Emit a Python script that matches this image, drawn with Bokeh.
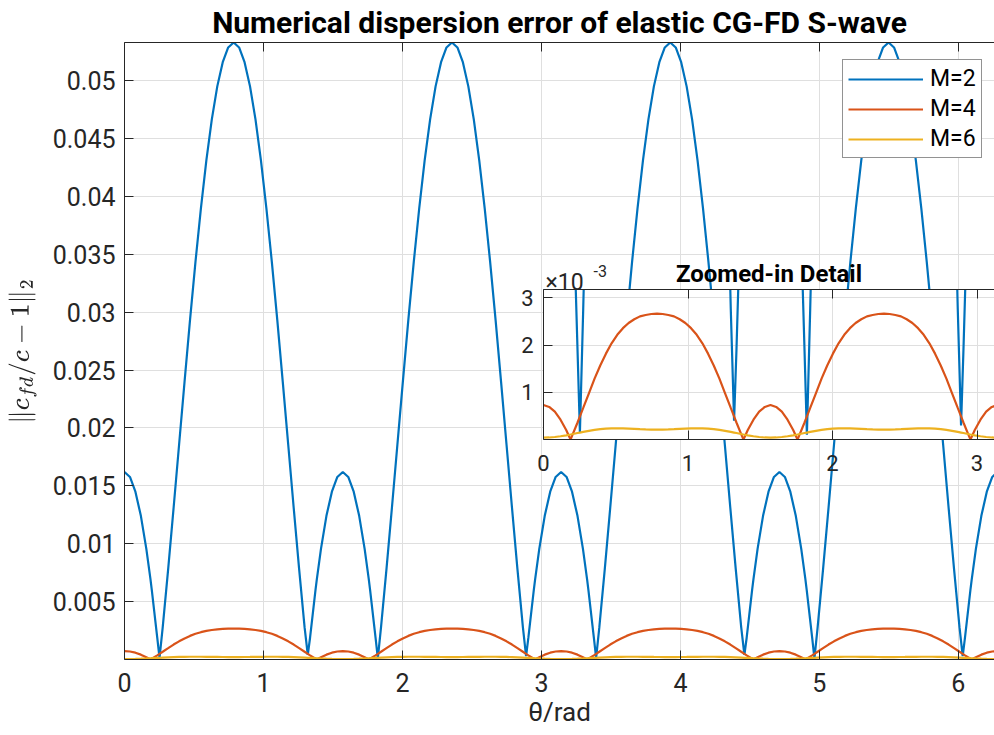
from bokeh.plotting import figure
from bokeh.models import (ColumnDataSource, Range1d, LinearAxis, FixedTicker, Grid,
                          Legend, LegendItem, Label)
from bokeh.embed import file_html
from bokeh.resources import INLINE

# ---------------- data ----------------
theta = [
    0.0, 0.0393, 0.0785, 0.1178, 0.1571, 0.187, 0.1963, 0.2356, 0.252, 0.2749,
    0.3142, 0.3534, 0.3927, 0.432, 0.4712, 0.5105, 0.5498, 0.589, 0.6283, 0.6676,
    0.7069, 0.7461, 0.7854, 0.8247, 0.8639, 0.9032, 0.9425, 0.9817, 1.021, 1.0603,
    1.0996, 1.1388, 1.1781, 1.2174, 1.2566, 1.2959, 1.3188, 1.3352, 1.3744, 1.3838,
    1.4137, 1.453, 1.4923, 1.5315,
    1.5708, 1.6101, 1.6493, 1.6886, 1.7279, 1.7578, 1.7671, 1.8064, 1.8228, 1.8457,
    1.885, 1.9242, 1.9635, 2.0028, 2.042, 2.0813, 2.1206, 2.1598, 2.1991, 2.2384,
    2.2777, 2.3169, 2.3562, 2.3955, 2.4347, 2.474, 2.5133, 2.5525, 2.5918, 2.6311,
    2.6704, 2.7096, 2.7489, 2.7882, 2.8274, 2.8667, 2.8896, 2.906, 2.9452, 2.9546,
    2.9845, 3.0238, 3.0631, 3.1023,
    3.1416, 3.1809, 3.2201, 3.2594, 3.2987, 3.3286, 3.3379, 3.3772, 3.3936, 3.4165,
    3.4558, 3.495, 3.5343, 3.5736, 3.6128, 3.6521, 3.6914, 3.7306, 3.7699, 3.8092,
    3.8485, 3.8877, 3.927, 3.9663, 4.0055, 4.0448, 4.0841, 4.1233, 4.1626, 4.2019,
    4.2412, 4.2804, 4.3197, 4.359, 4.3982, 4.4375, 4.4604, 4.4768, 4.516, 4.5254,
    4.5553, 4.5946, 4.6339, 4.6731,
    4.7124, 4.7517, 4.7909, 4.8302, 4.8695, 4.8994, 4.9087, 4.948, 4.9644, 4.9873,
    5.0265, 5.0658, 5.1051, 5.1444, 5.1836, 5.2229, 5.2622, 5.3014, 5.3407, 5.38,
    5.4193, 5.4585, 5.4978, 5.5371, 5.5763, 5.6156, 5.6549, 5.6941, 5.7334, 5.7727,
    5.812, 5.8512, 5.8905, 5.9298, 5.969, 6.0083, 6.0312, 6.0476, 6.0868, 6.0962,
    6.1261, 6.1654, 6.2046, 6.2439,
    6.2832,
]

err_m2 = [
    0.0162, 0.01577, 0.0145, 0.01241, 0.00956, 0.00692, 0.00602, 0.00188, 0.00015, 0.00277,
    0.00781, 0.01311, 0.01855, 0.02399, 0.02929, 0.03433, 0.03898, 0.04312, 0.04666, 0.04951,
    0.0516, 0.05287, 0.0533, 0.05287, 0.0516, 0.04951, 0.04666, 0.04312, 0.03898, 0.03433,
    0.02929, 0.02399, 0.01855, 0.01311, 0.00781, 0.00277, 0.0004, 0.00188, 0.00602, 0.00692,
    0.00956, 0.01241, 0.0145, 0.01577,
    0.0162, 0.01577, 0.0145, 0.01241, 0.00956, 0.00692, 0.00602, 0.00188, 0.0001, 0.00277,
    0.00781, 0.01311, 0.01855, 0.02399, 0.02929, 0.03433, 0.03898, 0.04312, 0.04666, 0.04951,
    0.0516, 0.05287, 0.0533, 0.05287, 0.0516, 0.04951, 0.04666, 0.04312, 0.03898, 0.03433,
    0.02929, 0.02399, 0.01855, 0.01311, 0.00781, 0.00277, 0.0003, 0.00188, 0.00602, 0.00692,
    0.00956, 0.01241, 0.0145, 0.01577,
    0.0162, 0.01577, 0.0145, 0.01241, 0.00956, 0.00692, 0.00602, 0.00188, 0.00015, 0.00277,
    0.00781, 0.01311, 0.01855, 0.02399, 0.02929, 0.03433, 0.03898, 0.04312, 0.04666, 0.04951,
    0.0516, 0.05287, 0.0533, 0.05287, 0.0516, 0.04951, 0.04666, 0.04312, 0.03898, 0.03433,
    0.02929, 0.02399, 0.01855, 0.01311, 0.00781, 0.00277, 0.0004, 0.00188, 0.00602, 0.00692,
    0.00956, 0.01241, 0.0145, 0.01577,
    0.0162, 0.01577, 0.0145, 0.01241, 0.00956, 0.00692, 0.00602, 0.00188, 0.0001, 0.00277,
    0.00781, 0.01311, 0.01855, 0.02399, 0.02929, 0.03433, 0.03898, 0.04312, 0.04666, 0.04951,
    0.0516, 0.05287, 0.0533, 0.05287, 0.0516, 0.04951, 0.04666, 0.04312, 0.03898, 0.03433,
    0.02929, 0.02399, 0.01855, 0.01311, 0.00781, 0.00277, 0.0003, 0.00188, 0.00602, 0.00692,
    0.00956, 0.01241, 0.0145, 0.01577,
    0.0162,
]

err_m4 = [
    0.00073, 0.00069, 0.00059, 0.00042, 0.0002, 0.0, 0.000066, 0.00036, 0.00049, 0.00067,
    0.00098, 0.00129, 0.00157, 0.00182, 0.00204, 0.00222, 0.00236, 0.00247, 0.00255, 0.00261,
    0.00264, 0.00266, 0.00267, 0.00266, 0.00264, 0.00261, 0.00255, 0.00247, 0.00236, 0.00222,
    0.00204, 0.00182, 0.00157, 0.00129, 0.00098, 0.00067, 0.00049, 0.00036, 0.000066, 0.0,
    0.0002, 0.00042, 0.00059, 0.00069,
    0.00073, 0.00069, 0.00059, 0.00042, 0.0002, 0.0, 0.000066, 0.00036, 0.00049, 0.00067,
    0.00098, 0.00129, 0.00157, 0.00182, 0.00204, 0.00222, 0.00236, 0.00247, 0.00255, 0.00261,
    0.00264, 0.00266, 0.00267, 0.00266, 0.00264, 0.00261, 0.00255, 0.00247, 0.00236, 0.00222,
    0.00204, 0.00182, 0.00157, 0.00129, 0.00098, 0.00067, 0.00049, 0.00036, 0.000066, 0.0,
    0.0002, 0.00042, 0.00059, 0.00069,
    0.00073, 0.00069, 0.00059, 0.00042, 0.0002, 0.0, 0.000066, 0.00036, 0.00049, 0.00067,
    0.00098, 0.00129, 0.00157, 0.00182, 0.00204, 0.00222, 0.00236, 0.00247, 0.00255, 0.00261,
    0.00264, 0.00266, 0.00267, 0.00266, 0.00264, 0.00261, 0.00255, 0.00247, 0.00236, 0.00222,
    0.00204, 0.00182, 0.00157, 0.00129, 0.00098, 0.00067, 0.00049, 0.00036, 0.000066, 0.0,
    0.0002, 0.00042, 0.00059, 0.00069,
    0.00073, 0.00069, 0.00059, 0.00042, 0.0002, 0.0, 0.000066, 0.00036, 0.00049, 0.00067,
    0.00098, 0.00129, 0.00157, 0.00182, 0.00204, 0.00222, 0.00236, 0.00247, 0.00255, 0.00261,
    0.00264, 0.00266, 0.00267, 0.00266, 0.00264, 0.00261, 0.00255, 0.00247, 0.00236, 0.00222,
    0.00204, 0.00182, 0.00157, 0.00129, 0.00098, 0.00067, 0.00049, 0.00036, 0.000066, 0.0,
    0.0002, 0.00042, 0.00059, 0.00069,
    0.00073,
]

err_m6 = [
    0.00004, 0.000043, 0.000053, 0.000069, 0.000089, 0.000106, 0.000112, 0.000137, 0.000147, 0.000161,
    0.000184, 0.000203, 0.000219, 0.00023, 0.000236, 0.000238, 0.000236, 0.000232, 0.000226, 0.00022,
    0.000215, 0.000211, 0.00021, 0.000211, 0.000215, 0.00022, 0.000226, 0.000232, 0.000236, 0.000238,
    0.000236, 0.00023, 0.000219, 0.000203, 0.000184, 0.000161, 0.000147, 0.000137, 0.000112, 0.000106,
    0.000089, 0.000069, 0.000053, 0.000043,
    0.00004, 0.000043, 0.000053, 0.000069, 0.000089, 0.000106, 0.000112, 0.000137, 0.000147, 0.000161,
    0.000184, 0.000203, 0.000219, 0.00023, 0.000236, 0.000238, 0.000236, 0.000232, 0.000226, 0.00022,
    0.000215, 0.000211, 0.00021, 0.000211, 0.000215, 0.00022, 0.000226, 0.000232, 0.000236, 0.000238,
    0.000236, 0.00023, 0.000219, 0.000203, 0.000184, 0.000161, 0.000147, 0.000137, 0.000112, 0.000106,
    0.000089, 0.000069, 0.000053, 0.000043,
    0.00004, 0.000043, 0.000053, 0.000069, 0.000089, 0.000106, 0.000112, 0.000137, 0.000147, 0.000161,
    0.000184, 0.000203, 0.000219, 0.00023, 0.000236, 0.000238, 0.000236, 0.000232, 0.000226, 0.00022,
    0.000215, 0.000211, 0.00021, 0.000211, 0.000215, 0.00022, 0.000226, 0.000232, 0.000236, 0.000238,
    0.000236, 0.00023, 0.000219, 0.000203, 0.000184, 0.000161, 0.000147, 0.000137, 0.000112, 0.000106,
    0.000089, 0.000069, 0.000053, 0.000043,
    0.00004, 0.000043, 0.000053, 0.000069, 0.000089, 0.000106, 0.000112, 0.000137, 0.000147, 0.000161,
    0.000184, 0.000203, 0.000219, 0.00023, 0.000236, 0.000238, 0.000236, 0.000232, 0.000226, 0.00022,
    0.000215, 0.000211, 0.00021, 0.000211, 0.000215, 0.00022, 0.000226, 0.000232, 0.000236, 0.000238,
    0.000236, 0.00023, 0.000219, 0.000203, 0.000184, 0.000161, 0.000147, 0.000137, 0.000112, 0.000106,
    0.000089, 0.000069, 0.000053, 0.000043,
    0.00004,
]

series_keys = ["m2", "m4", "m6"]
series_labels = ["M=2", "M=4", "M=6"]
series_colors = ["#0072BD", "#D95319", "#EDB120"]

main_xticks = [0, 1, 2, 3, 4, 5, 6]
main_yticks = [0.005, 0.01, 0.015, 0.02, 0.025, 0.03, 0.035, 0.04, 0.045, 0.05]
main_ytick_labels = ["0.005", "0.01", "0.015", "0.02", "0.025", "0.03", "0.035",
                     "0.04", "0.045", "0.05"]
inset_xticks = [0, 1, 2, 3]
inset_yticks = [0.001, 0.002, 0.003]
inset_ytick_labels = ["1", "2", "3"]

title_main = "Numerical dispersion error of elastic CG-FD S-wave"
title_inset = "Zoomed-in Detail"
xlabel_main = "θ/rad"
ylabel_main = r"$$\|c_{fd}/c-1\|_2$$"
inset_exp_base = "×10"
inset_exp_power = "-3"

# ---------------- styling ----------------
FONT = "Roboto"
INK = "#262626"
GRID = "#dfdfdf"
LW = 2.2

src = ColumnDataSource(dict(theta=theta, m2=err_m2, m4=err_m4, m6=err_m6))


def style_axis(ax, font_size, standoff):
    ax.major_tick_in = 9
    ax.major_tick_out = 0
    ax.minor_tick_in = 0
    ax.minor_tick_out = 0
    ax.axis_line_color = INK
    ax.axis_line_width = 1
    ax.major_tick_line_color = INK
    ax.major_label_text_font = FONT
    ax.major_label_text_font_size = font_size
    ax.major_label_text_color = INK
    ax.major_label_standoff = standoff


def add_frame_axes(fig, xticks, yticks, ylabels, font_size, xstandoff, ystandoff,
                   xlabel=None, ylabel=None, xlabel_size=None, ylabel_size=None,
                   xlabel_standoff=0):
    bottom = LinearAxis(ticker=FixedTicker(ticks=xticks, minor_ticks=[]))
    style_axis(bottom, font_size, xstandoff)
    left = LinearAxis(ticker=FixedTicker(ticks=yticks, minor_ticks=[]),
                      major_label_overrides={t: s for t, s in zip(yticks, ylabels)})
    style_axis(left, font_size, ystandoff)
    top = LinearAxis(ticker=FixedTicker(ticks=xticks, minor_ticks=[]))
    style_axis(top, "1px", 0)
    top.major_label_text_alpha = 0
    if xlabel is not None:
        bottom.axis_label = xlabel
        bottom.axis_label_text_font = FONT
        bottom.axis_label_text_font_size = xlabel_size
        bottom.axis_label_text_font_style = "normal"
        bottom.axis_label_text_color = INK
        bottom.axis_label_standoff = xlabel_standoff
    if ylabel is not None:
        left.axis_label = ylabel
        left.axis_label_text_font_size = ylabel_size
        left.axis_label_text_font_style = "normal"
        left.axis_label_text_color = INK
        left.axis_label_standoff = 13
    fig.add_layout(bottom, "below")
    fig.add_layout(left, "left")
    fig.add_layout(top, "above")
    fig.add_layout(Grid(dimension=0, ticker=FixedTicker(ticks=xticks, minor_ticks=[]),
                        grid_line_color=GRID, grid_line_width=1), "center")
    fig.add_layout(Grid(dimension=1, ticker=FixedTicker(ticks=yticks, minor_ticks=[]),
                        grid_line_color=GRID, grid_line_width=1), "center")


# ---------------- main figure (placed at the page origin) ----------------
p = figure(width=994, height=735, sizing_mode="fixed",
           x_range=Range1d(0, 6.26), y_range=Range1d(0, 0.0533),
           x_axis_type=None, y_axis_type=None,
           output_backend="svg", toolbar_location=None,
           min_border_left=124, min_border_right=0, min_border_top=42, min_border_bottom=76,
           outline_line_color=None, background_fill_color="white", border_fill_color="white",
           title=title_main,
           styles={"position": "absolute", "left": "0px", "top": "0px"})
p.title.text_font = FONT
p.title.text_font_size = "30px"
p.title.text_font_style = "bold"
p.title.text_color = "black"
p.title.align = "center"
p.title.standoff = 5

add_frame_axes(p, main_xticks, main_yticks, main_ytick_labels, "25px", 13, 9,
               xlabel=xlabel_main, ylabel=ylabel_main, xlabel_size="26px",
               ylabel_size="22px", xlabel_standoff=2)

renderers = []
for key, col in zip(series_keys, series_colors):
    renderers.append(p.line("theta", key, source=src, line_color=col, line_width=LW))

legend = Legend(
    items=[LegendItem(label=lab, renderers=[r]) for lab, r in zip(series_labels, renderers)],
    location=(718, 501), orientation="vertical",
    border_line_color=INK, border_line_width=1,
    background_fill_color="white", background_fill_alpha=1.0,
    label_text_font=FONT, label_text_font_size="23px", label_text_color="black",
    glyph_width=75, glyph_height=26, label_height=26, label_standoff=7,
    spacing=3, padding=5, margin=0,
)
p.add_layout(legend, "center")

# exponent marker of the inset's y axis (drawn just above the inset box)
p.add_layout(Label(x=3.029, y=0.03257, text=inset_exp_base, text_font=FONT,
                   text_font_size="23px", text_color=INK, text_baseline="alphabetic",
                   text_align="left"))
p.add_layout(Label(x=3.375, y=0.0336, text=inset_exp_power, text_font=FONT,
                   text_font_size="16px", text_color=INK, text_baseline="alphabetic",
                   text_align="left"))

# ---------------- inset figure ----------------
q = figure(width=494, height=236, sizing_mode="fixed",
           x_range=Range1d(0, 3.121), y_range=Range1d(0, 0.00318),
           x_axis_type=None, y_axis_type=None,
           output_backend="svg", toolbar_location=None,
           min_border_left=43, min_border_right=0, min_border_top=41, min_border_bottom=45,
           outline_line_color=None, background_fill_color="white", border_fill_color=None,
           title=title_inset,
           styles={"position": "absolute", "left": "500px", "top": "248px"})
q.title.text_font = FONT
q.title.text_font_size = "24px"
q.title.text_font_style = "bold"
q.title.text_color = "black"
q.title.align = "center"
q.title.standoff = 3

add_frame_axes(q, inset_xticks, inset_yticks, inset_ytick_labels, "22px", 15, 10)

for key, col in zip(series_keys, series_colors):
    q.line("theta", key, source=src, line_color=col, line_width=LW)

open("out.html", "w").write(file_html([p, q], INLINE))
